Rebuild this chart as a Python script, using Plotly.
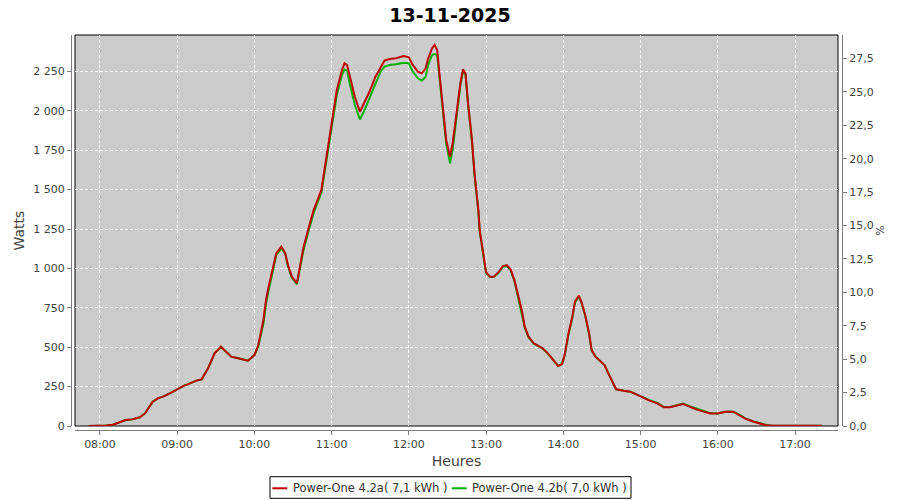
import plotly.graph_objects as go

date = "2025-11-13"

times = [
    "07:51", "07:55", "08:00", "08:05", "08:10", "08:15", "08:20", "08:25", "08:31", "08:35",
    "08:41", "08:45", "08:49", "08:55", "09:00", "09:05", "09:08", "09:15", "09:19", "09:24",
    "09:29", "09:34", "09:38", "09:42", "09:49", "09:55", "10:00", "10:03", "10:07", "10:09",
    "10:11", "10:15", "10:17", "10:21", "10:24", "10:26", "10:29", "10:33", "10:35", "10:38",
    "10:42", "10:46", "10:52", "10:56", "11:00", "11:04", "11:08", "11:10", "11:12", "11:14",
    "11:18", "11:22", "11:25", "11:30", "11:34", "11:38", "11:41", "11:45", "11:50", "11:56",
    "12:00", "12:03", "12:07", "12:10", "12:13", "12:15", "12:18", "12:20", "12:22", "12:24",
    "12:27", "12:29", "12:32", "12:34", "12:37", "12:40", "12:42", "12:44", "12:46", "12:49",
    "12:51", "12:54", "12:55", "12:58", "13:00", "13:03", "13:06", "13:10", "13:13", "13:16",
    "13:19", "13:22", "13:25", "13:28", "13:30", "13:33", "13:37", "13:41", "13:44", "13:48",
    "13:52", "13:56", "13:59", "14:01", "14:04", "14:07", "14:09", "14:12", "14:14", "14:17",
    "14:20", "14:22", "14:25", "14:29", "14:32", "14:35", "14:38", "14:41", "14:47", "14:52",
    "15:00", "15:07", "15:13", "15:18", "15:23", "15:28", "15:33", "15:38", "15:43", "15:49",
    "15:54", "16:00", "16:06", "16:12", "16:17", "16:22", "16:28", "16:33", "16:38", "16:43",
    "16:50", "17:00", "17:10", "17:21",
]

watts_a = [
    0, 0, 1, 3, 8, 25, 38, 42, 55, 80,
    154, 175, 186, 210, 233, 255, 264, 288, 296, 366,
    461, 503, 471, 440, 427, 414, 450, 514, 673, 800,
    884, 1032, 1096, 1138, 1096, 1022, 950, 905, 1000, 1130,
    1254, 1370, 1497, 1709, 1941, 2132, 2259, 2301, 2290, 2216,
    2089, 1994, 2047, 2132, 2216, 2280, 2318, 2329, 2333, 2348,
    2339, 2291, 2248, 2238, 2269, 2333, 2396, 2418, 2386, 2216,
    1984, 1815, 1709, 1794, 1984, 2174, 2263, 2238, 2047, 1815,
    1603, 1370, 1244, 1074, 975, 947, 947, 979, 1015, 1021,
    994, 926, 820, 725, 630, 567, 525, 508, 493, 461,
    419, 381, 393, 450, 588, 693, 789, 827, 789, 704,
    588, 482, 440, 408, 387, 334, 281, 233, 224, 218,
    188, 161, 144, 119, 119, 131, 140, 123, 106, 91,
    80, 80, 91, 91, 70, 44, 27, 13, 4, 2,
    1, 1, 1, 1,
]

watts_b = [
    0, 0, 1, 3, 8, 25, 38, 42, 55, 80,
    154, 175, 186, 210, 233, 255, 264, 288, 296, 366,
    461, 503, 471, 440, 427, 414, 450, 505, 650, 775,
    860, 1010, 1085, 1128, 1090, 1015, 940, 900, 985, 1110,
    1235, 1350, 1480, 1690, 1915, 2100, 2227, 2263, 2255, 2174,
    2037, 1946, 1994, 2089, 2174, 2248, 2280, 2291, 2295, 2305,
    2301, 2248, 2206, 2191, 2216, 2291, 2354, 2360, 2354, 2200,
    1970, 1790, 1667, 1751, 1960, 2160, 2248, 2230, 2040, 1805,
    1590, 1360, 1235, 1065, 970, 945, 945, 975, 1010, 1015,
    990, 920, 812, 718, 625, 562, 522, 506, 491, 459,
    419, 381, 393, 445, 580, 685, 782, 822, 785, 700,
    585, 480, 440, 408, 387, 334, 281, 233, 224, 218,
    190, 164, 147, 121, 121, 133, 142, 126, 110, 95,
    82, 80, 91, 90, 70, 46, 29, 16, 6, 2,
    1, 1, 1, 1,
]

name_a = "Power-One 4.2a( 7,1 kWh )"
name_b = "Power-One 4.2b( 7,0 kWh )"
title_text = "13-11-2025"

x = [f"{date} {t}" for t in times]

FONT = "DejaVu Sans"
AXIS_GREY = "#808080"
TEXT = "#444444"
RED = "#c00000"
GREEN = "#00b000"

ML, MR, MT, MB = 71, 58, 35, 70
W, H = 900, 500
W_PLOT = W - ML - MR
H_PLOT = H - MT - MB


def px_x(p):
    return (p - ML) / W_PLOT


def px_y(p):
    return (H - MB - p) / H_PLOT


fig = go.Figure()
fig.add_trace(go.Scatter(x=x, y=watts_b, mode="lines", name=name_b,
                         line=dict(color=GREEN, width=2), showlegend=False))
fig.add_trace(go.Scatter(x=x, y=watts_a, mode="lines", name=name_a,
                         line=dict(color=RED, width=2), showlegend=False))
fig.add_trace(go.Scatter(x=[x[0]], y=[0], yaxis="y2", mode="markers",
                         marker=dict(opacity=0), showlegend=False, hoverinfo="skip"))

# manual legend (box, line samples, labels)
shapes = [
    dict(type="rect", xref="x domain", yref="y domain", x0=0, x1=1, y0=0, y1=1,
         line=dict(color="black", width=1), layer="below"),
    dict(type="rect", xref="paper", yref="paper", x0=px_x(270), x1=px_x(631),
         y0=px_y(498.3), y1=px_y(476.7), line=dict(color="black", width=1),
         fillcolor="white"),
    dict(type="line", xref="paper", yref="paper", x0=px_x(272.3), x1=px_x(287.3),
         y0=px_y(488.3), y1=px_y(488.3), line=dict(color=RED, width=2)),
    dict(type="line", xref="paper", yref="paper", x0=px_x(451.7), x1=px_x(466.7),
         y0=px_y(488.3), y1=px_y(488.3), line=dict(color=GREEN, width=2)),
]
annotations = [
    dict(text=name_a, xref="paper", yref="paper", x=px_x(290.5), y=px_y(488),
         xanchor="left", yanchor="middle", showarrow=False,
         font=dict(size=11.5, color="#333333", family=FONT)),
    dict(text=name_b, xref="paper", yref="paper", x=px_x(469.5), y=px_y(488),
         xanchor="left", yanchor="middle", showarrow=False,
         font=dict(size=11.5, color="#333333", family=FONT)),
]

fig.update_layout(
    width=W, height=H,
    paper_bgcolor="white", plot_bgcolor="#cccccc",
    margin=dict(l=ML, r=MR, t=MT, b=MB, autoexpand=False),
    separators=", ",
    font=dict(family=FONT, color=TEXT, size=11),
    title=dict(text=f"<b>{title_text}</b>", x=0.5, xanchor="center", xref="container",
               y=0.97, yanchor="middle", yref="container",
               font=dict(size=19, color="black", family=FONT)),
    showlegend=False,
    xaxis=dict(
        type="date", domain=[4 / W_PLOT, 1 - 4 / W_PLOT], anchor="free", position=0,
        automargin=False,
        range=[f"{date} 07:40:36", f"{date} 17:33:24"],
        tick0=f"{date} 08:00", dtick=3600000, tickformat="%H:%M",
        ticks="outside", ticklen=4, tickcolor=AXIS_GREY,
        showline=True, linecolor=AXIS_GREY, linewidth=1,
        showgrid=True, gridcolor="white", gridwidth=1, griddash="3px,2px",
        zeroline=False, tickfont=dict(size=11, color=TEXT),
        title=dict(text="Heures", font=dict(size=14, color=TEXT), standoff=5),
    ),
    yaxis=dict(
        domain=[4 / H_PLOT, 1], anchor="free", position=0, automargin=False,
        range=[0, 2481], dtick=250, tick0=0, tickformat=",d",
        ticks="outside", ticklen=4, tickcolor=AXIS_GREY,
        showline=True, linecolor=AXIS_GREY, linewidth=1,
        showgrid=True, gridcolor="white", gridwidth=1, griddash="3px,2px",
        zeroline=False, tickfont=dict(size=11, color=TEXT),
        title=dict(text="Watts", font=dict(size=14, color=TEXT), standoff=4),
    ),
    yaxis2=dict(
        overlaying="y", side="right", anchor="free", position=1, automargin=False,
        range=[0, 29.26], dtick=2.5, tick0=0, tickformat=".1f",
        ticks="outside", ticklen=4, tickcolor=AXIS_GREY,
        showline=True, linecolor=AXIS_GREY, linewidth=1,
        showgrid=False, zeroline=False, tickfont=dict(size=11, color=TEXT),
        title=dict(text="%", font=dict(size=11, color=TEXT), standoff=3),
    ),
    shapes=shapes,
    annotations=annotations,
)

fig.write_html("out.html", config={"displayModeBar": False},
               post_script="document.body.style.margin='0';")
